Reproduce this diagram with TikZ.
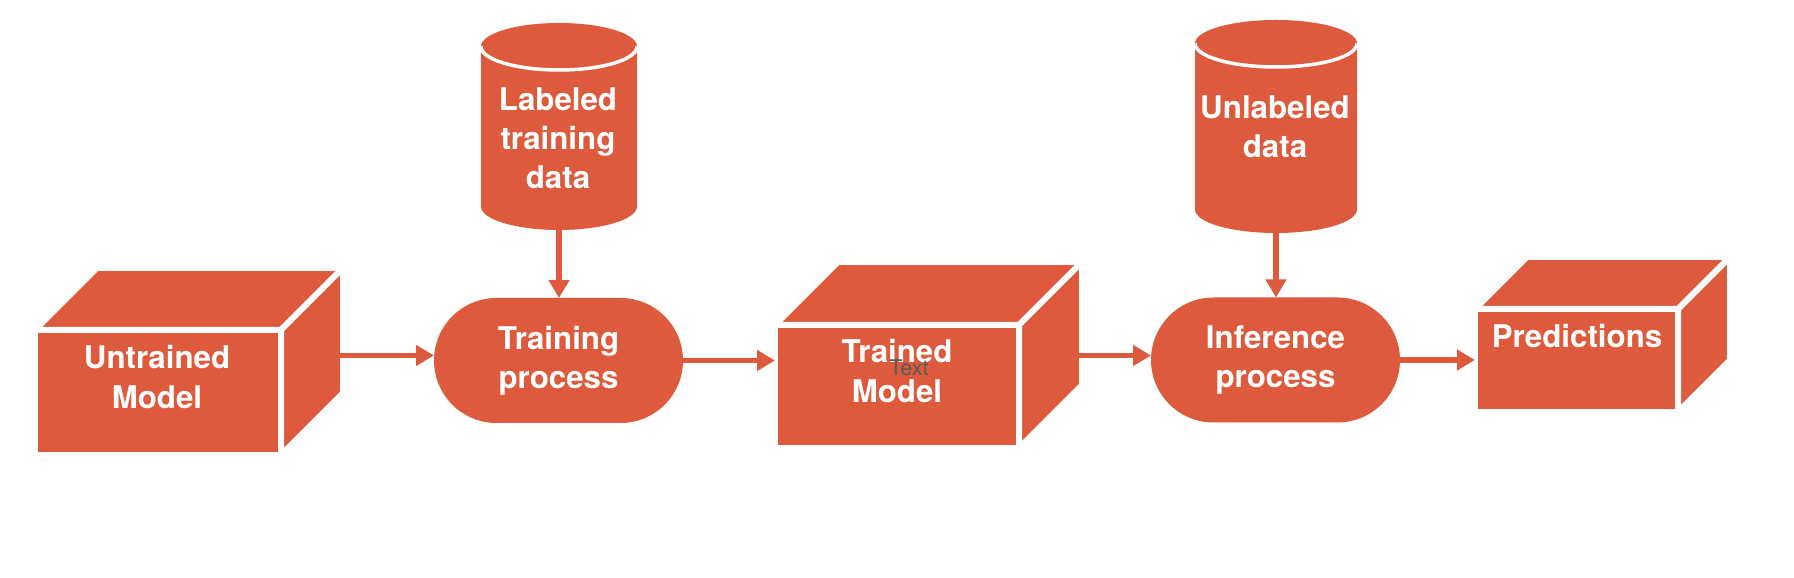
\documentclass[tikz,border=0pt]{standalone}
\usepackage{fontspec}
\setmainfont{TeX Gyre Heros}
\usepackage{tikz}
\usetikzlibrary{arrows.meta,positioning,shapes.misc,calc}
\definecolor{brand}{RGB}{221,90,60}
% database drum drawn round an empty node: #1 node, #2 x radius, #3 y radius
\newcommand{\drumbody}[3]{%
  \fill[brand] ([yshift=-#3]#1.north west) arc[start angle=180,end angle=0,x radius=#2,y radius=#3]
    -- ([yshift=#3]#1.south east) arc[start angle=0,end angle=-180,x radius=#2,y radius=#3] -- cycle;
  \draw[white,line width=0.07cm] ([yshift=-#3]#1.north west) arc[start angle=180,end angle=360,x radius=#2,y radius=#3];
}

\tikzset{
  cubeface/.style={fill=brand,draw=white,line width=0.12cm,line join=round,inner sep=0pt,outer sep=0pt},
  process/.style={rounded rectangle,fill=brand,minimum width=4.98cm,minimum height=2.5cm,inner sep=0pt,outer sep=0pt,boxtext},
  datastore/.style={rectangle,inner sep=0pt,outer sep=0pt},
  boxtext/.style={text=white,font=\bfseries\fontsize{17.8}{22.2}\selectfont,align=center},
  flow/.style={brand,line width=0.11cm,-{Triangle[width=0.4cm,length=0.36cm]}},
}

\begin{document}
\begin{tikzpicture}
  \useasboundingbox (0,0) rectangle (35.88,11.56);

  % Untrained model (cube)
  \node[cubeface,minimum width=4.92cm,minimum height=2.5cm] (untrained) at (3.16,3.71) {};
  \draw[cubeface] (untrained.north west) -- ++(1.24,1.24) -- ++(4.92,0) -- (untrained.north east) -- cycle;
  \draw[cubeface] (untrained.north east) -- ++(1.24,1.24) -- ++(0,-2.5) -- (untrained.south east) -- cycle;
  \node[boxtext] at (3.14,4.02) {Untrained\\Model};
  \coordinate (untrainedout) at (6.80,4.45);

  % Labeled data and training
  \node[datastore,minimum width=3.12cm,minimum height=4.14cm] (labeled) at (11.18,9.03) {};
  \drumbody{labeled}{1.56cm}{0.47cm}
  \node[boxtext] at (11.16,8.80) {Labeled\\training\\data};
  \node[process] (training) at (11.17,4.35) {Training\\process};

  % Trained model (cube)
  \node[cubeface,minimum width=4.88cm,minimum height=2.46cm] (trained) at (17.94,3.83) {};
  \draw[cubeface] (trained.north west) -- ++(1.26,1.26) -- ++(4.88,0) -- (trained.north east) -- cycle;
  \draw[cubeface] (trained.north east) -- ++(1.26,1.26) -- ++(0,-2.46) -- (trained.south east) -- cycle;
  \node[boxtext] at (17.94,4.14) {Trained\\Model};
  \node[text=black!65,font=\fontsize{12.3}{14}\selectfont] at (18.18,4.20) {Text};
  \coordinate (trainedout) at (21.58,4.45);

  % Unlabeled data and inference
  \node[datastore,minimum width=3.24cm,minimum height=4.26cm] (unlabeled) at (25.52,9.03) {};
  \drumbody{unlabeled}{1.62cm}{0.47cm}
  \node[boxtext] at (25.50,9.02) {Unlabeled\\data};
  \node[process] (inference) at (25.51,4.36) {Inference\\process};

  % Predictions (cube)
  \node[cubeface,minimum width=4.06cm,minimum height=2.06cm] (predictions) at (31.53,4.35) {};
  \draw[cubeface] (predictions.north west) -- ++(1.04,1.04) -- ++(4.06,0) -- (predictions.north east) -- cycle;
  \draw[cubeface] (predictions.north east) -- ++(1.04,1.04) -- ++(0,-2.06) -- (predictions.south east) -- cycle;
  \node[boxtext] at (31.54,4.84) {Predictions};

  % Flow
  \draw[flow] (labeled.south) -- (labeled.south |- training.north);
  \draw[flow] (unlabeled.south) -- (unlabeled.south |- inference.north);
  \draw[flow] (untrainedout) -- (untrainedout -| training.west);
  \draw[flow] (training.east) -- (training.east -| trained.west);
  \draw[flow] (trainedout) -- (trainedout -| inference.west);
  \draw[flow] (inference.east) -- (inference.east -| predictions.west);
\end{tikzpicture}
\end{document}
